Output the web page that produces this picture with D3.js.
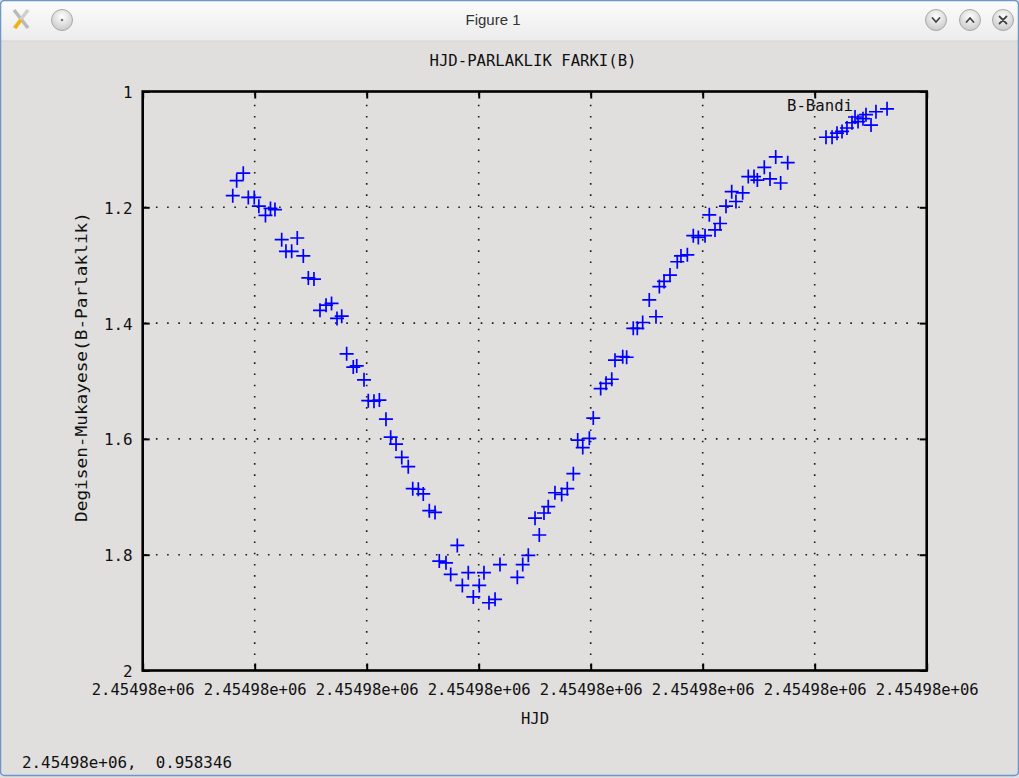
<!DOCTYPE html>
<html>
<head>
<meta charset="utf-8">
<script src="https://cdn.jsdelivr.net/npm/d3@7"></script>
<style>
  html, body { margin: 0; padding: 0; background: #e0dfde; overflow: hidden; }
  svg { display: block; }
  .mono { font-family: "DejaVu Sans Mono", "Liberation Mono", monospace; fill: #111; }
</style>
</head>
<body>
<svg id="fig" width="1019" height="778"></svg>
<script>
// Light curve: heliocentric Julian date vs. B-band magnitude difference (variable - comparison)
const hjd = [
  2454980.30804, 2454980.30839, 2454980.30898, 2454980.30943, 2454980.30996,
  2454980.31037, 2454980.31096, 2454980.31141, 2454980.31181, 2454980.31241,
  2454980.31380, 2454980.31279, 2454980.31330, 2454980.31434, 2454980.31479,
  2454980.31529, 2454980.31583, 2454980.31637, 2454980.31686, 2454980.31735,
  2454980.31777, 2454980.31821, 2454980.31880, 2454980.31911, 2454980.31976,
  2454980.32014, 2454980.32065, 2454980.32113, 2454980.32172, 2454980.32214,
  2454980.32262, 2454980.32313, 2454980.32371, 2454980.32411, 2454980.32461,
  2454980.32505, 2454980.32559, 2454980.32610, 2454980.32648, 2454980.32708,
  2454980.32750, 2454980.32809, 2454980.32854, 2454980.32907, 2454980.32952,
  2454980.33005, 2454980.33047, 2454980.33092, 2454980.33146, 2454980.33190,
  2454980.33345, 2454980.33393, 2454980.33443, 2454980.33503, 2454980.33541,
  2454980.33583, 2454980.33621, 2454980.33681, 2454980.33741, 2454980.33791,
  2454980.33845, 2454980.33884, 2454980.33929, 2454980.33988, 2454980.34023,
  2454980.34089, 2454980.34137, 2454980.34188, 2454980.34217, 2454980.34286,
  2454980.34321, 2454980.34380, 2454980.34416, 2454980.34464, 2454980.34523,
  2454980.34583, 2454980.34613, 2454980.34655, 2454980.34708, 2454980.34773,
  2454980.34806, 2454980.34863, 2454980.34916, 2454980.34961, 2454980.35021,
  2454980.35059, 2454980.35110, 2454980.35155, 2454980.35208, 2454980.35259,
  2454980.35297, 2454980.35357, 2454980.35407, 2454980.35458, 2454980.35488,
  2454980.35550, 2454980.35601, 2454980.35652, 2454980.35696, 2454980.35759,
  2454980.36101, 2454980.36155, 2454980.36199, 2454980.36244, 2454980.36288,
  2454980.36333, 2454980.36360, 2454980.36387, 2454980.36431, 2454980.36458,
  2454980.36503, 2454980.36547, 2454980.36646
];
const deltaB = [
  1.180, 1.154, 1.141, 1.183, 1.183,
  1.198, 1.214, 1.202, 1.204, 1.256,
  1.253, 1.276, 1.276, 1.284, 1.322,
  1.324, 1.378, 1.369, 1.366, 1.392,
  1.388, 1.453, 1.476, 1.474, 1.498,
  1.534, 1.535, 1.533, 1.566, 1.597,
  1.609, 1.632, 1.648, 1.686, 1.687,
  1.695, 1.724, 1.727, 1.811, 1.814,
  1.834, 1.784, 1.853, 1.831, 1.873,
  1.853, 1.831, 1.883, 1.877, 1.817,
  1.839, 1.817, 1.801, 1.737, 1.766,
  1.728, 1.717, 1.693, 1.696, 1.686,
  1.660, 1.602, 1.615, 1.599, 1.564,
  1.513, 1.504, 1.497, 1.464, 1.458,
  1.459, 1.409, 1.409, 1.399, 1.360,
  1.389, 1.337, 1.328, 1.317, 1.294,
  1.284, 1.282, 1.249, 1.252, 1.249,
  1.213, 1.239, 1.228, 1.198, 1.173,
  1.190, 1.175, 1.147, 1.147, 1.153,
  1.131, 1.151, 1.113, 1.158, 1.123,
  1.079, 1.079, 1.072, 1.069, 1.063,
  1.054, 1.044, 1.052, 1.047, 1.040,
  1.058, 1.035, 1.030
];
const xTicks = [2454980.30, 2454980.31, 2454980.32, 2454980.33, 2454980.34, 2454980.35, 2454980.36, 2454980.37];
const xTickLabels = ["2.45498e+06", "2.45498e+06", "2.45498e+06", "2.45498e+06",
                     "2.45498e+06", "2.45498e+06", "2.45498e+06", "2.45498e+06"];
const yTicks = [1, 1.2, 1.4, 1.6, 1.8, 2];
const yTickLabels = ["1", "1.2", "1.4", "1.6", "1.8", "2"];
const titleText = "HJD-PARLAKLIK FARKI(B)";
const xLabel = "HJD";
const yLabel = "Degisen-Mukayese(B-Parlaklik)";
const legendLabel = "B-Bandi";
const statusText = "2.45498e+06,  0.958346";
const windowTitle = "Figure 1";

const svg = d3.select("#fig");
const W = 1019, H = 778;
const FS = 16.5; // text size used by the figure's labels

// ---- window frame ----
const defs = svg.append("defs");
const tb = defs.append("linearGradient").attr("id", "tbar").attr("x1", 0).attr("y1", 0).attr("x2", 0).attr("y2", 1);
tb.append("stop").attr("offset", "0%").attr("stop-color", "#fbfbfb");
tb.append("stop").attr("offset", "100%").attr("stop-color", "#ececec");
const bt = defs.append("radialGradient").attr("id", "btn").attr("cx", "50%").attr("cy", "35%").attr("r", "65%");
bt.append("stop").attr("offset", "0%").attr("stop-color", "#ffffff");
bt.append("stop").attr("offset", "100%").attr("stop-color", "#c9c9c9");

svg.append("rect").attr("x", 0).attr("y", 0).attr("width", W).attr("height", H).attr("fill", "#e0dfde");
svg.append("rect").attr("x", 1).attr("y", 1).attr("width", W - 2).attr("height", 40)
  .attr("rx", 4).attr("fill", "url(#tbar)");
svg.append("line").attr("x1", 1).attr("x2", W - 1).attr("y1", 41).attr("y2", 41).attr("stroke", "#d6d5d4");
// outer border
svg.append("rect").attr("x", 0.5).attr("y", 0.5).attr("width", W - 1).attr("height", H - 3)
  .attr("rx", 4).attr("fill", "none").attr("stroke", "#6d97c9").attr("stroke-width", 1.5);

svg.append("text").attr("x", 493).attr("y", 25).attr("text-anchor", "middle")
  .attr("font-family", "'Liberation Sans', Arial, sans-serif").attr("font-size", 15)
  .attr("fill", "#333").text(windowTitle);

// left-side icon and button
const ico = svg.append("g").attr("transform", "translate(21,19)");
ico.append("line").attr("x1", -7).attr("y1", -9).attr("x2", 7).attr("y2", 9).attr("stroke", "#b9b9b9").attr("stroke-width", 3.5);
ico.append("line").attr("x1", 7).attr("y1", -9).attr("x2", -7).attr("y2", 9).attr("stroke", "#cfcfcf").attr("stroke-width", 3.5);
ico.append("line").attr("x1", -6).attr("y1", 9).attr("x2", 0).attr("y2", 1).attr("stroke", "#f0b400").attr("stroke-width", 3.5);
svg.append("circle").attr("cx", 62).attr("cy", 20).attr("r", 10.5).attr("fill", "url(#btn)").attr("stroke", "#a9a9a9");
svg.append("circle").attr("cx", 62).attr("cy", 20).attr("r", 1.3).attr("fill", "#777");

// right-side buttons
[[936, "v"], [970, "^"], [1003, "x"]].forEach(([cx, kind]) => {
  svg.append("circle").attr("cx", cx).attr("cy", 20).attr("r", 10.5).attr("fill", "url(#btn)").attr("stroke", "#a9a9a9");
  const g = svg.append("g").attr("transform", `translate(${cx},20)`)
    .attr("stroke", "#444").attr("stroke-width", 1.8).attr("fill", "none").attr("stroke-linecap", "round");
  if (kind === "v") g.append("path").attr("d", "M-3.5,-2 L0,2 L3.5,-2");
  else if (kind === "^") g.append("path").attr("d", "M-3.5,2 L0,-2 L3.5,2");
  else g.append("path").attr("d", "M-3.5,-3.5 L3.5,3.5 M3.5,-3.5 L-3.5,3.5");
});

// ---- plot ----
const plot = { left: 142.7, right: 926.7, top: 91.5, bottom: 670.5 };
const x = d3.scaleLinear().domain([xTicks[0], xTicks[xTicks.length - 1]]).range([plot.left, plot.right]);
const y = d3.scaleLinear().domain([1, 2]).range([plot.top, plot.bottom]);

// dotted grid
const grid = svg.append("g").attr("stroke", "#1a1a1a").attr("stroke-width", 1.6)
  .attr("stroke-dasharray", "1.6 9.6");
grid.selectAll("line.gx").data(xTicks.slice(1, -1)).join("line").attr("class", "gx")
  .attr("x1", d => x(d)).attr("x2", d => x(d)).attr("y1", plot.top + 2).attr("y2", plot.bottom);
grid.selectAll("line.gy").data(yTicks.slice(1, -1)).join("line").attr("class", "gy")
  .attr("x1", plot.left + 2).attr("x2", plot.right).attr("y1", d => y(d)).attr("y2", d => y(d));

// axes on all four sides, ticks pointing inward
const tickLen = 7;
const axB = d3.axisBottom(x).tickValues(xTicks).tickSize(-tickLen).tickFormat((d, i) => xTickLabels[i]);
const axT = d3.axisTop(x).tickValues(xTicks).tickSize(-tickLen).tickFormat("");
const axL = d3.axisLeft(y).tickValues(yTicks).tickSize(-tickLen).tickFormat((d, i) => yTickLabels[i]);
const axR = d3.axisRight(y).tickValues(yTicks).tickSize(-tickLen).tickFormat("");

function styleAxis(g) {
  g.select(".domain").remove();
  g.selectAll(".tick line").attr("stroke", "#000").attr("stroke-width", 2);
  g.selectAll(".tick text").attr("class", "mono").attr("font-size", FS).attr("fill", "#111");
}
const gB = svg.append("g").attr("transform", `translate(0,${plot.bottom})`).call(axB).call(styleAxis);
gB.selectAll(".tick text").attr("y", 13).attr("dy", "0.71em")
  .attr("textLength", 103).attr("lengthAdjust", "spacingAndGlyphs");
svg.append("g").attr("transform", `translate(0,${plot.top})`).call(axT).call(styleAxis);
const gL = svg.append("g").attr("transform", `translate(${plot.left},0)`).call(axL).call(styleAxis);
gL.selectAll(".tick text").attr("x", -10).attr("dy", "0.36em")
  .attr("textLength", (d, i) => yTickLabels[i].length * 9.6).attr("lengthAdjust", "spacingAndGlyphs");
svg.append("g").attr("transform", `translate(${plot.right},0)`).call(axR).call(styleAxis);

// frame
svg.append("rect").attr("x", plot.left).attr("y", plot.top)
  .attr("width", plot.right - plot.left).attr("height", plot.bottom - plot.top)
  .attr("fill", "none").attr("stroke", "#000").attr("stroke-width", 2.6);

// markers
const half = 7;
svg.append("g").attr("stroke", "#0000ff").attr("stroke-width", 1.7).attr("fill", "none")
  .selectAll("path").data(hjd.map((t, i) => [t, deltaB[i]])).join("path")
  .attr("d", d => {
    const px = x(d[0]), py = y(d[1]);
    return `M${px - half},${py}H${px + half}M${px},${py - half}V${py + half}`;
  });

// legend
svg.append("text").attr("class", "mono").attr("x", 787).attr("y", 111).attr("font-size", FS)
  .attr("textLength", 66).attr("lengthAdjust", "spacingAndGlyphs").text(legendLabel);

// titles
svg.append("text").attr("class", "mono").attr("x", 533).attr("y", 66).attr("text-anchor", "middle")
  .attr("font-size", FS).attr("textLength", 207).attr("lengthAdjust", "spacingAndGlyphs").text(titleText);
svg.append("text").attr("class", "mono").attr("x", 535).attr("y", 724).attr("text-anchor", "middle")
  .attr("font-size", FS).attr("textLength", 28).attr("lengthAdjust", "spacingAndGlyphs").text(xLabel);
svg.append("text").attr("class", "mono").attr("transform", "translate(87,367) rotate(-90)")
  .attr("text-anchor", "middle").attr("font-size", FS)
  .attr("textLength", 310).attr("lengthAdjust", "spacingAndGlyphs").text(yLabel);

// status line
svg.append("text").attr("class", "mono").attr("x", 22).attr("y", 768).attr("font-size", FS)
  .attr("textLength", 210).attr("lengthAdjust", "spacingAndGlyphs")
  .style("white-space", "pre").text(statusText);
</script>
</body>
</html>
